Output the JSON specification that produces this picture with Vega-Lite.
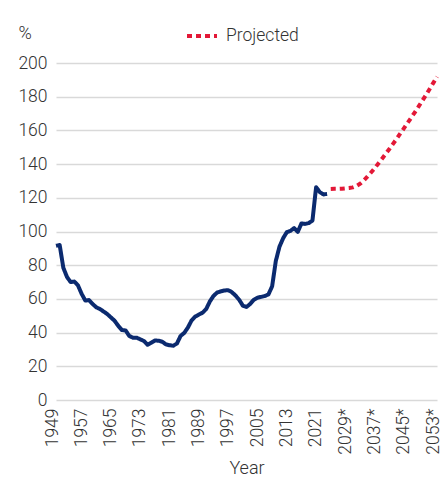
{
  "$schema": "https://vega.github.io/schema/vega-lite/v6.json",
  "width": 381,
  "height": 337,
  "autosize": {"type": "none"},
  "padding": {"left": 56, "top": 63, "right": 8, "bottom": 82},
  "background": "white",
  "config": {
    "view": {"stroke": null},
    "font": "Roboto",
    "axis": {"labelFont": "Roboto", "titleFont": "Roboto", "labelFontWeight": 300, "titleFontWeight": 300, "labelColor": "#333333", "titleColor": "#333333"},
    "legend": {"labelFont": "Roboto", "labelFontWeight": 300}
  },
  "data": {
    "values": [
      {"year": 1949, "value": 91.5, "series": "Historical"},
      {"year": 1950, "value": 92, "series": "Historical"},
      {"year": 1951, "value": 78.5, "series": "Historical"},
      {"year": 1952, "value": 73, "series": "Historical"},
      {"year": 1953, "value": 70, "series": "Historical"},
      {"year": 1954, "value": 70.3, "series": "Historical"},
      {"year": 1955, "value": 68, "series": "Historical"},
      {"year": 1956, "value": 63, "series": "Historical"},
      {"year": 1957, "value": 59, "series": "Historical"},
      {"year": 1958, "value": 59.3, "series": "Historical"},
      {"year": 1959, "value": 57, "series": "Historical"},
      {"year": 1960, "value": 55, "series": "Historical"},
      {"year": 1961, "value": 54, "series": "Historical"},
      {"year": 1962, "value": 52.5, "series": "Historical"},
      {"year": 1963, "value": 51, "series": "Historical"},
      {"year": 1964, "value": 49, "series": "Historical"},
      {"year": 1965, "value": 47, "series": "Historical"},
      {"year": 1966, "value": 44, "series": "Historical"},
      {"year": 1967, "value": 41.5, "series": "Historical"},
      {"year": 1968, "value": 41.3, "series": "Historical"},
      {"year": 1969, "value": 38, "series": "Historical"},
      {"year": 1970, "value": 37, "series": "Historical"},
      {"year": 1971, "value": 37, "series": "Historical"},
      {"year": 1972, "value": 36, "series": "Historical"},
      {"year": 1973, "value": 35, "series": "Historical"},
      {"year": 1974, "value": 32.8, "series": "Historical"},
      {"year": 1975, "value": 34, "series": "Historical"},
      {"year": 1976, "value": 35.3, "series": "Historical"},
      {"year": 1977, "value": 35.2, "series": "Historical"},
      {"year": 1978, "value": 34.6, "series": "Historical"},
      {"year": 1979, "value": 33, "series": "Historical"},
      {"year": 1980, "value": 32.5, "series": "Historical"},
      {"year": 1981, "value": 32.2, "series": "Historical"},
      {"year": 1982, "value": 33.5, "series": "Historical"},
      {"year": 1983, "value": 38, "series": "Historical"},
      {"year": 1984, "value": 39.8, "series": "Historical"},
      {"year": 1985, "value": 43, "series": "Historical"},
      {"year": 1986, "value": 47.2, "series": "Historical"},
      {"year": 1987, "value": 49.5, "series": "Historical"},
      {"year": 1988, "value": 50.7, "series": "Historical"},
      {"year": 1989, "value": 51.8, "series": "Historical"},
      {"year": 1990, "value": 54, "series": "Historical"},
      {"year": 1991, "value": 58.5, "series": "Historical"},
      {"year": 1992, "value": 61.8, "series": "Historical"},
      {"year": 1993, "value": 63.8, "series": "Historical"},
      {"year": 1994, "value": 64.5, "series": "Historical"},
      {"year": 1995, "value": 65, "series": "Historical"},
      {"year": 1996, "value": 65.2, "series": "Historical"},
      {"year": 1997, "value": 64, "series": "Historical"},
      {"year": 1998, "value": 62, "series": "Historical"},
      {"year": 1999, "value": 59.5, "series": "Historical"},
      {"year": 2000, "value": 56, "series": "Historical"},
      {"year": 2001, "value": 55.2, "series": "Historical"},
      {"year": 2002, "value": 57, "series": "Historical"},
      {"year": 2003, "value": 59.5, "series": "Historical"},
      {"year": 2004, "value": 60.7, "series": "Historical"},
      {"year": 2005, "value": 61.2, "series": "Historical"},
      {"year": 2006, "value": 61.7, "series": "Historical"},
      {"year": 2007, "value": 62.7, "series": "Historical"},
      {"year": 2008, "value": 67.5, "series": "Historical"},
      {"year": 2009, "value": 82.5, "series": "Historical"},
      {"year": 2010, "value": 91, "series": "Historical"},
      {"year": 2011, "value": 96, "series": "Historical"},
      {"year": 2012, "value": 99.6, "series": "Historical"},
      {"year": 2013, "value": 100.4, "series": "Historical"},
      {"year": 2014, "value": 102, "series": "Historical"},
      {"year": 2015, "value": 99.8, "series": "Historical"},
      {"year": 2016, "value": 104.8, "series": "Historical"},
      {"year": 2017, "value": 104.5, "series": "Historical"},
      {"year": 2018, "value": 105, "series": "Historical"},
      {"year": 2019, "value": 106.5, "series": "Historical"},
      {"year": 2020, "value": 126.3, "series": "Historical"},
      {"year": 2021, "value": 123.4, "series": "Historical"},
      {"year": 2022, "value": 122, "series": "Historical"},
      {"year": 2023, "value": 122.3, "series": "Historical"},
      {"year": 2024, "value": 125.2, "series": "Projected"},
      {"year": 2025, "value": 125.3, "series": "Projected"},
      {"year": 2026, "value": 125.3, "series": "Projected"},
      {"year": 2027, "value": 125.4, "series": "Projected"},
      {"year": 2028, "value": 125.6, "series": "Projected"},
      {"year": 2029, "value": 125.8, "series": "Projected"},
      {"year": 2030, "value": 126.2, "series": "Projected"},
      {"year": 2031, "value": 127, "series": "Projected"},
      {"year": 2032, "value": 128.3, "series": "Projected"},
      {"year": 2033, "value": 130.2, "series": "Projected"},
      {"year": 2034, "value": 132.5, "series": "Projected"},
      {"year": 2035, "value": 135, "series": "Projected"},
      {"year": 2036, "value": 137.6, "series": "Projected"},
      {"year": 2037, "value": 140.4, "series": "Projected"},
      {"year": 2038, "value": 143.2, "series": "Projected"},
      {"year": 2039, "value": 146.1, "series": "Projected"},
      {"year": 2040, "value": 149, "series": "Projected"},
      {"year": 2041, "value": 152, "series": "Projected"},
      {"year": 2042, "value": 155, "series": "Projected"},
      {"year": 2043, "value": 158.2, "series": "Projected"},
      {"year": 2044, "value": 161.3, "series": "Projected"},
      {"year": 2045, "value": 164.5, "series": "Projected"},
      {"year": 2046, "value": 167.7, "series": "Projected"},
      {"year": 2047, "value": 170.9, "series": "Projected"},
      {"year": 2048, "value": 174.2, "series": "Projected"},
      {"year": 2049, "value": 177.6, "series": "Projected"},
      {"year": 2050, "value": 181, "series": "Projected"},
      {"year": 2051, "value": 184.6, "series": "Projected"},
      {"year": 2052, "value": 188.2, "series": "Projected"},
      {"year": 2053, "value": 191.8, "series": "Projected"}
    ]
  },
  "mark": {"type": "line", "strokeWidth": 4, "strokeJoin": "round", "strokeCap": "butt"},
  "encoding": {
    "x": {
      "field": "year",
      "type": "quantitative",
      "scale": {"domain": [1949, 2053], "nice": false, "zero": false},
      "axis": {
        "values": [1949, 1957, 1965, 1973, 1981, 1989, 1997, 2005, 2013, 2021, 2029, 2037, 2045, 2053],
        "labelExpr": "datum.value > 2023 ? datum.value + '*' : '' + datum.value",
        "labelAngle": -90,
        "labelFontSize": 17.5,
        "labelPadding": 8,
        "labelOffset": -4,
        "grid": false,
        "ticks": false,
        "domain": false,
        "title": "Year",
        "titleFontSize": 18,
        "titlePadding": 5
      }
    },
    "y": {
      "field": "value",
      "type": "quantitative",
      "scale": {"domain": [0, 200], "nice": false},
      "axis": {
        "values": [0, 20, 40, 60, 80, 100, 120, 140, 160, 180, 200],
        "labelFontSize": 17.5,
        "labelPadding": 9,
        "grid": true,
        "gridColor": "#d9d9d9",
        "gridWidth": 1.5,
        "ticks": false,
        "domain": false,
        "title": "%",
        "titleFontSize": 18,
        "titleAngle": 0,
        "titleAlign": "left",
        "titleBaseline": "middle",
        "titleX": -38,
        "titleY": -30
      }
    },
    "color": {
      "field": "series",
      "type": "nominal",
      "scale": {"domain": ["Historical", "Projected"], "range": ["#0b2a6f", "#e31837"]},
      "legend": {
        "values": ["Projected"],
        "title": null,
        "orient": "none",
        "legendX": 129,
        "legendY": -44,
        "symbolType": "stroke",
        "symbolDash": [5, 4],
        "symbolStrokeWidth": 4,
        "symbolSize": 900,
        "labelFontSize": 17.5,
        "labelColor": "#333333",
        "labelOffset": 7
      }
    },
    "strokeDash": {
      "field": "series",
      "type": "nominal",
      "scale": {"domain": ["Historical", "Projected"], "range": [[1, 0], [5, 4]]},
      "legend": null
    }
  }
}
